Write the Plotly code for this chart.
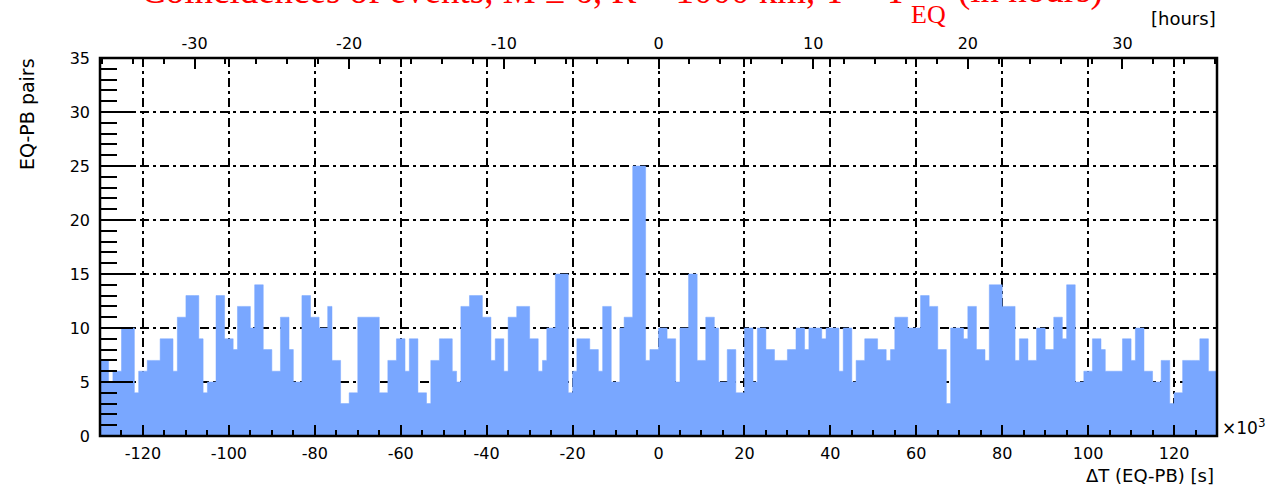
import numpy as np
import plotly.graph_objects as go

# Histogram of EQ-PB time differences: 1 ks bins from -130 ks to +130 ks
BIN_LO = -130.0
BIN_WIDTH = 1.0
counts = [
    7, 7, 5, 6, 6, 10, 10, 10, 4, 6, 6, 7, 7, 7, 9, 9, 9, 6, 11, 11,          # -130 .. -111
    13, 13, 13, 9, 4, 5, 5, 13, 13, 9, 9, 8, 12, 12, 12, 10, 14, 14, 8, 8,    # -110 .. -91
    6, 6, 11, 11, 8, 5, 5, 13, 13, 11, 11, 10, 10, 12, 7, 7, 3, 3, 4, 4,      # -90 .. -71
    11, 11, 11, 11, 11, 4, 4, 7, 7, 9, 9, 6, 9, 9, 4, 4, 3, 7, 7, 9,          # -70 .. -51
    9, 9, 6, 5, 12, 12, 13, 13, 13, 11, 11, 7, 9, 9, 6, 11, 11, 12, 12, 12,   # -50 .. -31
    9, 9, 6, 7, 10, 10, 15, 15, 15, 4, 6, 9, 9, 9, 8, 8, 6, 12, 12, 5,        # -30 .. -11
    5, 10, 11, 11, 25, 25, 25, 7, 8, 8, 10, 10, 9, 9, 5, 10, 10, 15, 15, 7,   # -10 .. 9
    7, 11, 11, 10, 5, 5, 8, 8, 4, 4, 10, 10, 5, 10, 10, 8, 8, 7, 7, 7,        # 10 .. 29
    8, 8, 10, 10, 8, 10, 10, 10, 9, 10, 10, 10, 6, 10, 10, 5, 7, 7, 9, 9,     # 30 .. 49
    9, 8, 8, 7, 8, 11, 11, 11, 10, 10, 10, 13, 13, 12, 12, 8, 8, 3, 10, 10,   # 50 .. 69
    10, 9, 12, 12, 8, 8, 7, 14, 14, 14, 12, 12, 12, 7, 9, 9, 7, 7, 10, 10,    # 70 .. 89
    8, 8, 11, 11, 9, 14, 14, 5, 5, 6, 6, 9, 9, 8, 6, 6, 6, 6, 9, 9,           # 90 .. 109
    7, 10, 10, 6, 6, 5, 5, 7, 7, 3, 4, 4, 7, 7, 7, 7, 9, 9, 6, 6,             # 110 .. 129
]

x_ticks = [-120, -100, -80, -60, -40, -20, 0, 20, 40, 60, 80, 100, 120]
x_tick_text = ["-120", "-100", "-80", "-60", "-40", "-20", "0", "20", "40", "60", "80", "100", "120"]
y_ticks = [0, 5, 10, 15, 20, 25, 30, 35]
y_tick_text = ["0", "5", "10", "15", "20", "25", "30", "35"]
hour_ticks = [-30, -20, -10, 0, 10, 20, 30]
hour_tick_text = ["-30", "-20", "-10", "0", "10", "20", "30"]

X_RANGE = [-130, 130]
Y_RANGE = [0, 35]
KS_PER_HOUR = 3.6
HOUR_RANGE = [X_RANGE[0] / KS_PER_HOUR, X_RANGE[1] / KS_PER_HOUR]

FILL = "#79A7FF"
GRID_DASH = "9px,4px,3px,4px"
SANS = "DejaVu Sans, Verdana, sans-serif"
SERIF = "Liberation Serif, Times New Roman, serif"
TICK_FONT = dict(family=SANS, size=16, color="black")
LABEL_FONT = dict(family=SANS, size=18, color="black")
TITLE_RED = "#FF0000"

W, H = 1268, 485
ML, MR, MT, MB = 100, 51, 58, 49
PW, PH = W - ML - MR, H - MT - MB


def px_x(px):
    return (px - ML) / PW


def px_y(py):
    return (H - MB - py) / PH


edges = BIN_LO + BIN_WIDTH * np.arange(len(counts) + 1)
steps = list(counts) + [counts[-1]]

fig = go.Figure()
fig.add_trace(go.Scatter(
    x=edges, y=steps, mode="lines",
    line=dict(shape="hv", width=0.5, color=FILL),
    fill="tozeroy", fillcolor=FILL,
    hoverinfo="skip", showlegend=False,
))
# empty trace that carries the secondary (hours) axis along the top
fig.add_trace(go.Scatter(
    x=HOUR_RANGE, y=[None, None], xaxis="x2", yaxis="y", mode="lines",
    hoverinfo="skip", showlegend=False,
))

fig.update_layout(
    width=W, height=H,
    margin=dict(l=ML, r=MR, t=MT, b=MB),
    paper_bgcolor="white", plot_bgcolor="white",
    showlegend=False,
    xaxis=dict(
        range=X_RANGE, tickmode="array", tickvals=x_ticks, ticktext=x_tick_text,
        ticks="inside", ticklen=11, tickwidth=2, tickcolor="black",
        minor=dict(dtick=5, tick0=0, ticks="inside", ticklen=6, tickwidth=1.5,
                   tickcolor="black", showgrid=False),
        showgrid=True, gridcolor="black", gridwidth=1.5, griddash=GRID_DASH,
        zeroline=False, showline=False, tickfont=TICK_FONT, ticklabelstandoff=6,
    ),
    xaxis2=dict(
        overlaying="x", side="top", anchor="y",
        range=HOUR_RANGE,
        tickmode="array", tickvals=hour_ticks, ticktext=hour_tick_text,
        ticks="inside", ticklen=11, tickwidth=2, tickcolor="black",
        minor=dict(dtick=2, tick0=0, ticks="inside", ticklen=6, tickwidth=1.5,
                   tickcolor="black", showgrid=False),
        showgrid=False, zeroline=False, showline=False, tickfont=TICK_FONT,
        ticklabelstandoff=5,
    ),
    yaxis=dict(
        range=Y_RANGE, tickmode="array", tickvals=y_ticks, ticktext=y_tick_text,
        ticks="inside", ticklen=33, tickwidth=2, tickcolor="black",
        minor=dict(dtick=1, tick0=0, ticks="inside", ticklen=17, tickwidth=1.5,
                   tickcolor="black", showgrid=False),
        showgrid=True, gridcolor="black", gridwidth=1.5, griddash=GRID_DASH,
        zeroline=False, showline=False, tickfont=TICK_FONT, ticklabelstandoff=9,
    ),
    shapes=[dict(type="rect", xref="paper", yref="paper", x0=0, x1=1, y0=0, y1=1,
                 line=dict(color="black", width=2.5), layer="above")],
)

annotations = [
    # y axis title, right-aligned at the top of the axis
    dict(text="EQ-PB pairs", textangle=-90, x=px_x(27), y=px_y(57),
         xanchor="center", yanchor="top", font=dict(LABEL_FONT, size=19)),
    # x axis title, right-aligned
    dict(text="ΔT (EQ-PB) [s]", x=px_x(1215), y=px_y(475),
         xanchor="right", yanchor="middle", font=LABEL_FONT),
    # exponent of the bottom axis
    dict(text="×10<sup>3</sup>", x=px_x(1221), y=px_y(427),
         xanchor="left", yanchor="middle", font=dict(LABEL_FONT, size=17)),
    # unit of the top axis
    dict(text="[hours]", x=px_x(1217), y=px_y(19),
         xanchor="right", yanchor="middle", font=LABEL_FONT),
    # main title, running off the top of the canvas
    dict(text="Coincidences of events, M ≥ 6, R < 1000 km, T − T",
         x=px_x(908), y=px_y(12), xanchor="right", yanchor="bottom",
         font=dict(family=SERIF, size=37, color=TITLE_RED)),
    dict(text="EQ", x=px_x(910), y=px_y(30), xanchor="left", yanchor="bottom",
         font=dict(family=SERIF, size=26, color=TITLE_RED)),
    dict(text="(in hours)", x=px_x(957), y=px_y(12), xanchor="left", yanchor="bottom",
         font=dict(family=SERIF, size=37, color=TITLE_RED)),
]
for a in annotations:
    a.update(xref="paper", yref="paper", showarrow=False, borderpad=0)
fig.update_layout(annotations=annotations)

fig.write_html("out.html", config={"displayModeBar": False})
